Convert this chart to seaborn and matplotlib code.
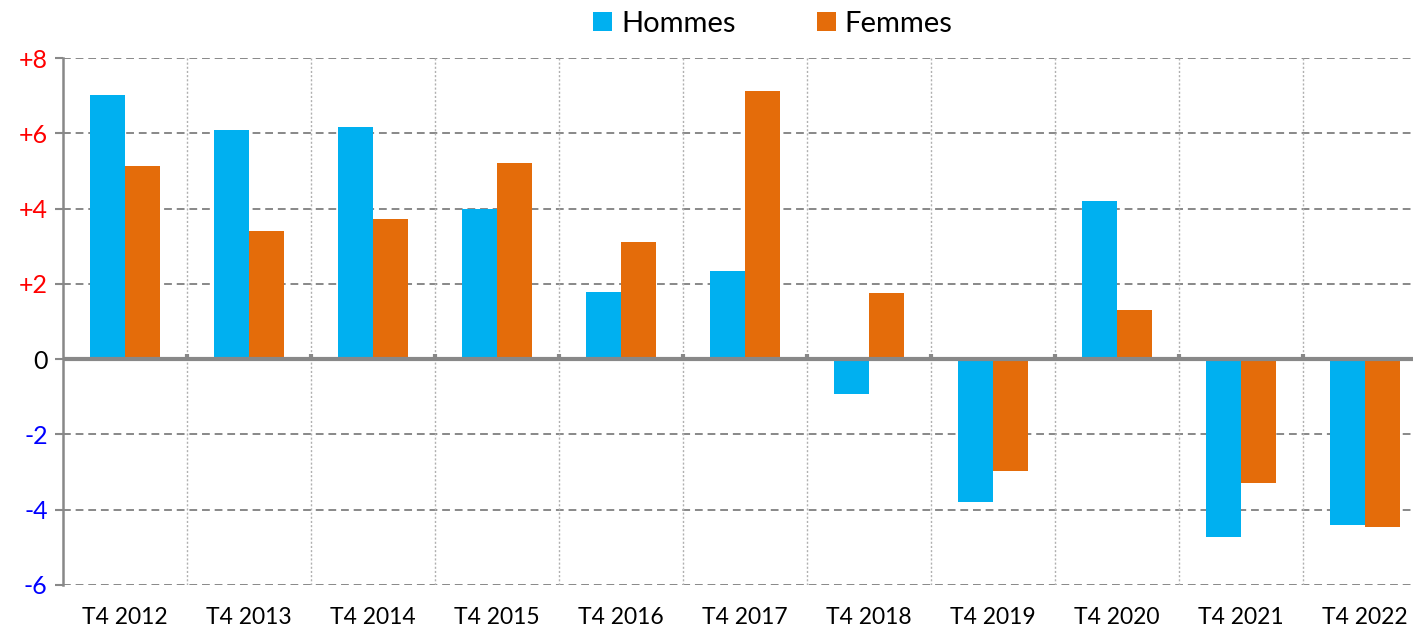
import pandas as pd
import matplotlib.pyplot as plt
import seaborn as sns

# values
quarters = ['T4 2012', 'T4 2013', 'T4 2014', 'T4 2015', 'T4 2016', 'T4 2017',
            'T4 2018', 'T4 2019', 'T4 2020', 'T4 2021', 'T4 2022']
hommes = [7.01, 6.08, 6.16, 3.99, 1.78, 2.34, -0.93, -3.80, 4.20, -4.73, -4.41]
femmes = [5.13, 3.40, 3.72, 5.21, 3.11, 7.12, 1.75, -2.98, 1.30, -3.29, -4.46]
y_ticks = [-6, -4, -2, 0, 2, 4, 6, 8]
y_labels = ['-6', '-4', '-2', '0', '+2', '+4', '+6', '+8']

df = pd.DataFrame({'trimestre': quarters * 2,
                   'valeur': hommes + femmes,
                   'sexe': ['Hommes'] * len(quarters) + ['Femmes'] * len(quarters)})

sns.set_style('white')
plt.rcParams['font.family'] = ['Lato', 'DejaVu Sans']
plt.rcParams['text.color'] = 'black'
plt.rcParams['xtick.color'] = 'black'
plt.rcParams['ytick.color'] = 'black'

fig = plt.figure(figsize=(14.13, 6.3), dpi=100)
ax = fig.add_axes([63 / 1413, 1 - 585 / 630, 1364 / 1413, 527 / 630])

sns.barplot(data=df, x='trimestre', y='valeur', hue='sexe',
            palette={'Hommes': '#00B0F0', 'Femmes': '#E46C0A'},
            width=0.565, gap=0, saturation=1, ax=ax, legend=True)
for bar in ax.patches:
    bar.set_linewidth(0)

ax.set_xlim(-0.5, len(quarters) - 0.5)
ax.set_ylim(-6, 8)
ax.set_xlabel('')
ax.set_ylabel('')

# horizontal dashed grid
for y in y_ticks:
    if y != 0:
        ax.axhline(y, color='#888888', ls=(0, (4, 2.5)), lw=1.4, zorder=0)
ax.axhline(0, color='#888888', lw=3, zorder=3)

# vertical dotted separators between categories
seps = [i + 0.5 for i in range(len(quarters) - 1)]
for x in seps:
    ax.axvline(x, color='#b0b0b0', ls=(0, (1.5, 1.5)), lw=1, zorder=0)
ax.vlines(seps, 0, 0.13, color='#888888', lw=3, zorder=3)

ax.set_yticks(y_ticks)
ax.set_yticklabels(y_labels, fontsize=18)
label_colors = {True: '#FF0000', False: '#0000FF'}
for t, v in zip(ax.get_yticklabels(), y_ticks):
    t.set_color('black' if v == 0 else label_colors[v > 0])
ax.tick_params(axis='y', length=6, width=1.5, color='#888888', pad=5, left=True)
ax.tick_params(axis='x', length=0, pad=16, labelsize=16.5)

for side in ['top', 'right', 'bottom']:
    ax.spines[side].set_visible(False)
ax.spines['left'].set_color('#888888')
ax.spines['left'].set_linewidth(1.8)

handles, labels = ax.get_legend_handles_labels()
ax.get_legend().remove()
fig.legend(handles, labels, loc='center', bbox_to_anchor=(773 / 1413, 1 - 24 / 630),
           ncol=2, frameon=False, fontsize=21, handlelength=0.65, handleheight=0.65,
           handletextpad=0.3, columnspacing=2.8)

fig.savefig('out.png', dpi=100)
